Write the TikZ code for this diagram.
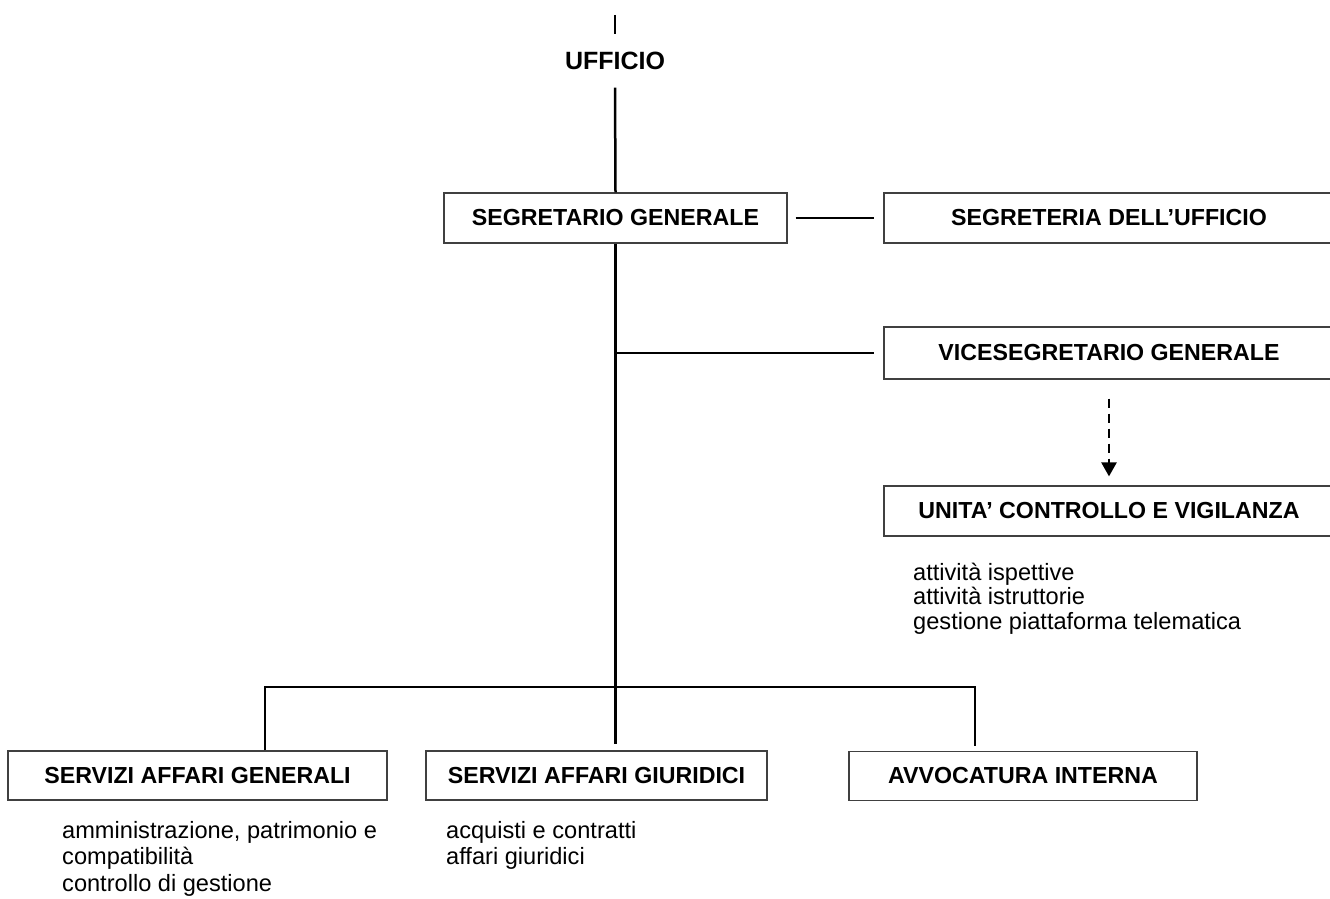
\documentclass[tikz,border=0pt]{standalone}
\usepackage{fontspec}
\setmainfont{Liberation Sans}
\usetikzlibrary{positioning}
\usetikzlibrary{calc}
\usetikzlibrary{arrows.meta}

\begin{document}
\begin{tikzpicture}[x=1pt, y=-1pt,
        box/.style={draw=black!75, line width=1.2pt, inner sep=0pt, minimum height=50pt,
            font=\bfseries\fontsize{23.2}{26}\selectfont},
        conn/.style={line width=2.5pt, black},
        dasharrow/.style={conn, dash pattern=on 9pt off 6pt, -{Triangle[length=14pt, width=15pt]}},
        duties/.style={anchor=base west, align=left, inner sep=0pt}
    ]
    \useasboundingbox (0,0) rectangle (1330,899);

    % Vertice
    \coordinate (t0) at (615,15);
    \node[font=\bfseries\fontsize{25}{28}\selectfont, inner sep=0pt, minimum height=53pt] (uff) at (615,61) {UFFICIO};
    \node[box, minimum width=343pt] (sg) at (615.5,218) {SEGRETARIO GENERALE};

    % Staff
    \node[box, minimum width=450pt] (segr) at (1109,218) {SEGRETERIA DELL’UFFICIO};
    \node[box, minimum width=450pt, minimum height=52pt] (vice) at (1109,353) {VICESEGRETARIO GENERALE};
    \node[box, minimum width=450pt] (ucv) at (1109,511) {UNITA’ CONTROLLO E VIGILANZA};
    % (base west = baseline of the last line)
    \node[duties, font=\fontsize{23.6}{24.5}\selectfont] (ucvlist) at (913,629)
        {attività ispettive\\attività istruttorie\\gestione piattaforma telematica};

    % Servizi
    \node[box, minimum width=379pt, minimum height=49pt] (sag) at (197.5,775.5) {SERVIZI AFFARI GENERALI};
    \node[box, minimum width=341pt, minimum height=49pt] (sagiur) at (596.5,775.5) {SERVIZI AFFARI GIURIDICI};
    \node[box, minimum width=348pt, minimum height=49pt] (ai) at (1023,776) {AVVOCATURA INTERNA};
    \node[duties, font=\fontsize{23.6}{26.5}\selectfont] (saglist) at (62,891)
        {amministrazione, patrimonio e\\compatibilità\\controllo di gestione};
    \node[duties, font=\fontsize{23.6}{26.5}\selectfont] (sagiurlist) at (446,864.5)
        {acquisti e contratti\\affari giuridici};

    % Collegamenti
    \coordinate (busl) at (265,687);
    \coordinate (busr) at (975,687);
    \draw[conn] (t0) -- (uff.north);
    \draw[conn] (uff.south) -- (sg.north);
    \draw[conn, shorten <=8pt, shorten >=9pt] (sg.east) -- (segr.west);
    \draw[conn, shorten >=6pt] (sg.south) -- (sg.south |- sagiur.north);
    \draw[conn, shorten >=9pt] (sg.south |- vice.west) -- (vice.west);
    \draw[conn, shorten >=5pt] (sag.north -| busl) |- (busr) -- (busr |- ai.north);
    \draw[dasharrow, shorten <=19pt, shorten >=9pt] (vice.south) -- (ucv.north);
\end{tikzpicture}
\end{document}
